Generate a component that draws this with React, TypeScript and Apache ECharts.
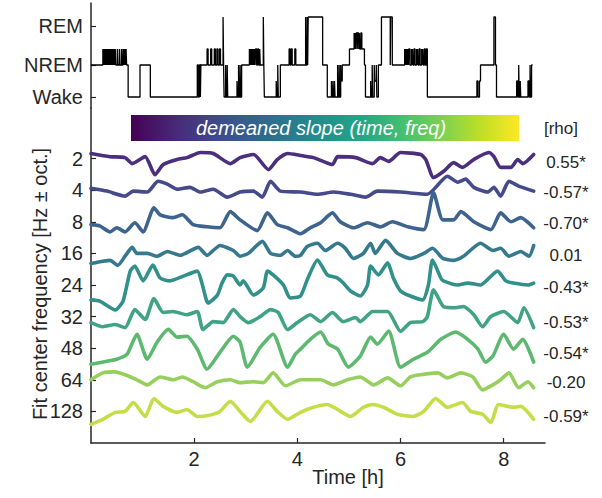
import React, { useEffect, useRef } from 'react';
import * as echarts from 'echarts';

// ---------- data ----------
const xTicks = [2, 4, 6, 8];
const stageLabels = ['Wake', 'NREM', 'REM'];
const stageTickValues = [0, 2, 4.44];

// hypnogram: [time h, stage level] (step, value holds until next point)
const hypnogram: [number, number][] = [
  [0, 2],
  [0.23, 3], [0.24, 2], [0.25, 3], [0.26, 2], [0.27, 3], [0.28, 2], [0.29, 3], [0.30, 2], [0.31, 3], [0.32, 2], [0.33, 3], [0.34, 2], [0.35, 3], [0.36, 2], [0.37, 3], [0.38, 2], [0.39, 3], [0.40, 2], [0.41, 3], [0.42, 2], [0.43, 3], [0.44, 2], [0.45, 3], [0.46, 2], [0.47, 3], [0.48, 2],
  [0.51, 3], [0.52, 2], [0.55, 3], [0.56, 2], [0.59, 3], [0.60, 2], [0.62, 3], [0.63, 2], [0.64, 3], [0.65, 2], [0.66, 3], [0.67, 2], [0.68, 3], [0.69, 2],
  [0.72, 0], [0.95, 2], [1.15, 0],
  [2.06, 2], [2.08, 0], [2.10, 2], [2.12, 0], [2.13, 2],
  [2.25, 3], [2.27, 2], [2.32, 3], [2.34, 2], [2.39, 3], [2.41, 2], [2.44, 3], [2.46, 2], [2.49, 3], [2.51, 2],
  [2.56, 5], [2.57, 2], [2.58, 0], [2.61, 2], [2.62, 0], [2.64, 2], [2.65, 0],
  [2.83, 1], [2.84, 0], [2.86, 2], [2.87, 0], [2.89, 2], [2.90, 0], [2.92, 2],
  [3.07, 3], [3.08, 2], [3.09, 3], [3.10, 2], [3.11, 3], [3.12, 2], [3.13, 3], [3.14, 2], [3.15, 3], [3.16, 2], [3.17, 3], [3.18, 2], [3.19, 3], [3.21, 2], [3.23, 3], [3.25, 2], [3.27, 3], [3.28, 2],
  [3.34, 5], [3.35, 2], [3.36, 0],
  [3.59, 1], [3.60, 0], [3.62, 2], [3.63, 0], [3.67, 2],
  [3.84, 3], [3.86, 2], [3.88, 3], [3.90, 2], [3.95, 3], [3.97, 2],
  [4.16, 5], [4.17, 2], [4.19, 5], [4.20, 2], [4.21, 5],
  [4.49, 2], [4.58, 0],
  [4.66, 1], [4.67, 0], [4.69, 1], [4.70, 0], [4.72, 1], [4.73, 0],
  [4.78, 2], [4.79, 0], [4.81, 2], [4.82, 0], [4.84, 2], [4.85, 1], [4.87, 2],
  [5.01, 3], [5.10, 4], [5.11, 3], [5.12, 4], [5.13, 3], [5.14, 4], [5.16, 3], [5.17, 4], [5.19, 3], [5.20, 4], [5.21, 3], [5.23, 4], [5.25, 3],
  [5.30, 2], [5.32, 0],
  [5.42, 1], [5.43, 0], [5.45, 2], [5.46, 0], [5.49, 2], [5.50, 1], [5.53, 2], [5.54, 0], [5.57, 2],
  [5.63, 5], [5.80, 2], [5.81, 5], [5.84, 2],
  [6.08, 3], [6.09, 2], [6.10, 3], [6.11, 2], [6.12, 3], [6.13, 2], [6.14, 3], [6.15, 2], [6.16, 3], [6.18, 2], [6.21, 3], [6.22, 2], [6.23, 3], [6.24, 2], [6.26, 3], [6.28, 2], [6.31, 3], [6.32, 2], [6.33, 3], [6.34, 2], [6.36, 3], [6.38, 2], [6.41, 3], [6.42, 2], [6.43, 3], [6.44, 2], [6.46, 3], [6.48, 2], [6.50, 3],
  [6.52, 0],
  [7.48, 1], [7.50, 0], [7.53, 1],
  [7.55, 2], [7.81, 5], [7.84, 2], [7.86, 0],
  [8.25, 1], [8.27, 0], [8.29, 2], [8.30, 0], [8.32, 1], [8.33, 0],
  [8.47, 1], [8.49, 0], [8.51, 2], [8.52, 0], [8.54, 2], [8.56, 2],
];

const freqLabels = ['2', '4', '8', '16', '24', '32', '48', '64', '128'];
const rhoLabels = ['0.55*', '-0.57*', '-0.70*', '0.01', '-0.43*', '-0.53*', '-0.54*', '-0.20', '-0.59*'];
const traceColors = ['#4b2e7d', '#454a8a', '#3d648f', '#35798e', '#31908a', '#40a384', '#5eb970', '#96cf5c', '#c4de48'];

// demeaned slope traces: [time h, deviation]
const trace2: [number, number][] = [
  [0, 0.16], [0.37, 0.06], [0.66, 0.03], [0.80, -0.16], [1.05, 0.06], [1.24, -0.51], [1.40, -0.19], [1.67, -0.03], [1.86, 0.03], [2.12, 0.19], [2.37, 0.16], [2.70, -0.16], [2.89, 0.03], [3.15, 0.13], [3.44, -0.35], [3.61, -0.03], [3.81, 0.16], [4.06, 0.10], [4.31, 0.03], [4.50, -0.09], [4.68, -0.19], [4.78, 0.06], [5.13, 0.03], [5.46, -0.16], [5.61, 0.03], [5.77, -0.09], [6.00, 0.19], [6.39, 0.13], [6.49, -0.03], [6.64, -0.60], [6.83, -0.41], [7.03, -0.13], [7.20, -0.28], [7.42, -0.03], [7.71, 0.19], [7.81, 0.06], [7.94, -0.28], [8.14, -0.28], [8.27, -0.03], [8.37, -0.16], [8.58, 0.13],
];
const trace4: [number, number][] = [
  [0, 0.06], [0.31, -0.03], [0.66, -0.19], [0.82, -0.03], [1.09, -0.06], [1.30, 0.28], [1.48, 0.19], [1.67, 0.03], [1.92, 0.09], [2.12, -0.06], [2.37, 0.03], [2.64, -0.22], [2.89, -0.06], [3.15, -0.03], [3.32, -0.22], [3.48, 0.28], [3.67, -0.03], [4.06, -0.06], [4.39, -0.13], [4.70, -0.06], [5.03, -0.13], [5.32, -0.22], [5.55, -0.03], [6.00, -0.06], [6.52, -0.13], [6.91, 0.44], [7.11, 0.25], [7.26, 0.35], [7.42, 0.09], [7.69, -0.06], [7.81, 0.09], [7.94, -0.19], [8.10, 0.28], [8.29, 0.13], [8.58, -0.03],
];
const trace8: [number, number][] = [
  [0, -0.09], [0.17, -0.13], [0.37, -0.32], [0.50, -0.19], [0.66, -0.32], [0.85, -0.03], [1.01, -0.32], [1.22, 0.44], [1.34, 0.22], [1.59, 0.13], [1.77, 0.22], [1.98, -0.09], [2.25, -0.16], [2.50, -0.19], [2.70, 0.32], [2.89, 0.06], [3.22, -0.28], [3.42, 0.28], [3.61, -0.09], [3.81, -0.19], [4.06, -0.38], [4.25, -0.19], [4.45, -0.03], [4.68, 0.28], [4.83, 0], [5.09, -0.19], [5.36, -0.03], [5.61, -0.16], [5.84, 0], [6.14, -0.16], [6.45, -0.25], [6.64, 0.92], [6.82, 0.06], [7.03, 0.06], [7.17, 0.32], [7.42, 0], [7.75, -0.25], [7.94, 0.28], [8.14, 0], [8.33, 0.13], [8.58, -0.19],
];
const trace16: [number, number][] = [
  [0, -0.32], [0.23, -0.25], [0.37, -0.22], [0.52, -0.38], [0.66, -0.09], [0.80, 0.19], [0.89, 0], [1.09, 0], [1.28, -0.09], [1.48, 0.06], [1.73, -0.06], [2.08, 0.19], [2.25, -0.06], [2.50, 0.25], [2.76, 0.09], [2.89, -0.09], [3.05, 0], [3.32, 0.38], [3.48, 0], [3.67, -0.06], [3.81, 0.09], [3.96, -0.09], [4.06, -0.06], [4.19, 0.22], [4.39, 0.32], [4.54, 0.09], [4.78, 0.32], [4.93, 0.16], [5.09, -0.16], [5.28, 0], [5.42, 0.32], [5.51, 0], [5.71, 0.41], [5.94, 0], [6.19, -0.16], [6.45, 0], [6.62, 0.16], [6.82, -0.16], [7.03, -0.22], [7.22, -0.09], [7.55, 0.32], [7.79, 0.09], [7.94, 0.16], [8.10, -0.09], [8.33, 0.06], [8.49, -0.09], [8.58, 0.25],
];
const trace24: [number, number][] = [
  [0, -0.47], [0.17, -0.51], [0.47, -0.79], [0.62, -0.51], [0.76, 0.44], [0.85, 0.60], [1.01, 0.13], [1.20, 0.63], [1.34, 0.22], [1.53, 0.13], [1.79, 0.28], [2.06, 0.44], [2.16, 0], [2.27, -0.57], [2.45, -0.32], [2.54, 0.06], [2.64, 0.32], [2.76, 0.28], [2.89, 0], [2.95, 0.13], [3.15, -0.32], [3.34, -0.09], [3.42, 0.44], [3.53, 0.32], [3.73, 0], [3.86, -0.41], [4.06, -0.35], [4.19, 0.16], [4.39, 0.79], [4.58, 0.32], [4.78, 0.22], [4.89, 0.06], [5.03, -0.19], [5.22, -0.35], [5.36, 0], [5.42, 0.60], [5.57, 0.32], [5.75, 0.70], [5.86, 0.22], [6.00, -0.19], [6.19, -0.35], [6.43, -0.47], [6.54, 0], [6.62, 0.79], [6.78, 0.22], [6.83, 0.13], [7.11, 0], [7.30, 0.06], [7.55, 0], [7.88, 0.44], [8.04, 0.13], [8.19, 0.06], [8.47, 0], [8.58, 0.06],
];
const trace32: [number, number][] = [
  [0, -0.19], [0.23, -0.32], [0.47, -0.25], [0.66, -0.35], [0.85, 0.22], [1.05, -0.09], [1.22, 0.57], [1.40, 0.13], [1.59, 0.16], [1.86, 0.06], [2.06, 0.16], [2.17, -0.41], [2.37, -0.16], [2.56, -0.19], [2.76, 0.22], [2.89, 0], [3.05, -0.19], [3.28, 0], [3.48, 0.22], [3.63, 0.13], [3.81, -0.41], [4.00, -0.19], [4.25, 0.06], [4.45, -0.16], [4.68, 0.13], [4.89, -0.16], [5.13, -0.03], [5.22, -0.16], [5.46, 0.16], [5.75, 0.16], [6.00, -0.47], [6.19, -0.19], [6.43, -0.16], [6.52, 0], [6.64, 0.85], [6.83, 0.32], [7.07, 0.28], [7.22, 0.32], [7.42, 0.06], [7.59, -0.32], [7.75, 0], [8.00, 0.16], [8.27, -0.19], [8.39, 0.28], [8.58, -0.35],
];
const trace48: [number, number][] = [
  [0, -0.51], [0.31, -0.41], [0.50, -0.35], [0.70, -0.19], [0.89, 0.44], [1.09, -0.35], [1.28, 0.19], [1.50, 0.60], [1.67, 0.35], [1.86, 0.38], [2.06, -0.03], [2.25, -0.66], [2.50, -0.13], [2.76, 0.38], [2.89, 0.19], [3.03, -0.60], [3.28, 0.03], [3.53, 0.44], [3.81, -0.60], [3.96, -0.19], [4.06, -0.03], [4.25, 0.28], [4.45, 0.51], [4.60, 0.13], [4.78, -0.03], [4.99, -0.60], [5.22, -0.25], [5.42, 0.35], [5.55, 0.13], [5.77, 0.54], [6.00, -0.60], [6.25, -0.35], [6.52, -0.13], [6.78, 0.28], [7.07, 0.51], [7.30, 0.28], [7.50, -0.03], [7.65, -0.44], [7.79, -0.25], [8.00, 0.44], [8.19, -0.03], [8.37, 0.28], [8.58, -0.44],
];
const trace64: [number, number][] = [
  [0, 0], [0.23, 0.22], [0.47, 0.25], [0.66, 0.16], [0.89, 0], [1.09, -0.16], [1.34, 0.09], [1.59, 0], [1.77, 0.09], [1.98, -0.06], [2.21, -0.25], [2.45, -0.06], [2.70, 0], [2.89, -0.09], [3.15, -0.06], [3.34, -0.09], [3.53, 0.22], [3.77, -0.19], [4.06, 0], [4.45, 0], [4.70, -0.16], [4.97, 0], [5.22, 0.09], [5.48, -0.16], [5.75, 0.06], [6.00, -0.19], [6.19, 0.09], [6.39, 0.16], [6.72, 0.22], [6.91, 0.06], [7.17, 0.22], [7.40, 0.09], [7.59, -0.32], [7.79, -0.16], [7.94, 0], [8.10, 0.22], [8.29, -0.25], [8.47, -0.06], [8.58, -0.25],
];
const trace128: [number, number][] = [
  [0, -0.41], [0.23, -0.25], [0.47, -0.03], [0.66, 0], [0.82, 0.28], [1.05, -0.16], [1.22, 0.41], [1.40, 0.16], [1.67, -0.03], [1.86, 0.06], [2.06, -0.16], [2.27, -0.13], [2.50, 0], [2.70, 0.32], [2.89, 0], [3.09, -0.32], [3.42, 0.32], [3.61, 0], [3.81, -0.25], [4.06, -0.03], [4.31, 0.13], [4.58, 0.22], [4.78, 0.06], [5.03, -0.16], [5.28, 0.13], [5.46, 0.22], [5.67, 0.13], [5.94, -0.09], [6.25, -0.16], [6.45, 0], [6.68, 0.41], [6.91, 0.13], [7.20, 0.28], [7.36, 0], [7.59, -0.09], [7.75, -0.35], [7.90, 0.22], [8.19, 0.13], [8.33, 0.16], [8.58, -0.25],
];

const traces = [trace2, trace4, trace8, trace16, trace24, trace32, trace48, trace64, trace128];

// ---------- layout ----------
const FONT = "'Liberation Sans', Arial, Helvetica, sans-serif";
const INK = '#262626';
const rhoY = [162, 192, 223, 255, 287, 322, 353, 382, 416];

export default function App() {
  const ref = useRef<HTMLDivElement>(null);
  useEffect(() => {
    if (!ref.current) return;
    const chart = echarts.init(ref.current, undefined, { renderer: 'svg' });
    const n = traces.length;
    const traceSeries = traces.map((tr, i) => ({
      type: 'line',
      xAxisIndex: 1,
      yAxisIndex: 1,
      showSymbol: false,
      smooth: 0.2,
      lineStyle: { color: traceColors[i], width: 3.6, join: 'round', cap: 'round' },
      itemStyle: { color: traceColors[i] },
      data: tr.map(([t, d]) => [t, d + (n - i)]),
      z: 3,
    }));
    const freqTickValues = freqLabels.map((_, i) => n - i);

    const graphic: any[] = [
      {
        type: 'rect',
        shape: { x: 131, y: 115, width: 388, height: 26 },
        style: {
          fill: new echarts.graphic.LinearGradient(0, 0, 1, 0, [
            { offset: 0, color: '#440154' },
            { offset: 0.1, color: '#482475' },
            { offset: 0.2, color: '#414487' },
            { offset: 0.3, color: '#355f8d' },
            { offset: 0.4, color: '#2a788e' },
            { offset: 0.5, color: '#21918c' },
            { offset: 0.6, color: '#22a884' },
            { offset: 0.7, color: '#44bf70' },
            { offset: 0.8, color: '#7ad151' },
            { offset: 0.9, color: '#bddf26' },
            { offset: 1, color: '#fde725' },
          ]),
        },
      },
      {
        type: 'text',
        x: 321,
        y: 128,
        style: {
          text: 'demeaned slope (time, freq)',
          fill: '#ffffff',
          font: `italic 20px ${FONT}`,
          align: 'center',
          verticalAlign: 'middle',
        },
      },
      {
        type: 'text',
        x: 561,
        y: 128,
        style: { text: '[rho]', fill: INK, font: `17px ${FONT}`, align: 'center', verticalAlign: 'middle' },
      },
      {
        type: 'text',
        x: 40,
        y: 284,
        rotation: Math.PI / 2,
        style: {
          text: 'Fit center frequency [Hz ± oct.]',
          fill: INK,
          font: `20px ${FONT}`,
          align: 'center',
          verticalAlign: 'middle',
        },
      },
      {
        type: 'text',
        x: 348,
        y: 477,
        style: { text: 'Time [h]', fill: INK, font: `20px ${FONT}`, align: 'center', verticalAlign: 'middle' },
      },
      ...rhoLabels.map((r, i) => ({
        type: 'text',
        x: 566,
        y: rhoY[i],
        style: { text: r, fill: INK, font: `17px ${FONT}`, align: 'center', verticalAlign: 'middle' },
      })),
    ];

    chart.setOption({
      animation: false,
      backgroundColor: '#ffffff',
      grid: [
        { left: 91, right: 57, top: 3, height: 105 },
        { left: 91, right: 57, top: 108, height: 335 },
      ],
      xAxis: [
        { type: 'value', gridIndex: 0, min: 0, max: 8.8, show: false },
        {
          type: 'value',
          gridIndex: 1,
          min: 0,
          max: 8.8,
          axisLine: { show: true, lineStyle: { color: INK, width: 1.5 } },
          axisTick: { show: true, inside: true, length: 5, customValues: xTicks, lineStyle: { color: INK, width: 1.2 } },
          axisLabel: {
            customValues: xTicks,
            color: INK,
            fontSize: 20,
            fontFamily: FONT,
            margin: 6,
            formatter: (v: number) => String(v),
          },
          splitLine: { show: false },
        },
      ],
      yAxis: [
        {
          type: 'value',
          gridIndex: 0,
          min: -0.6875,
          max: 5.875,
          axisLine: { show: true, lineStyle: { color: INK, width: 1.5 } },
          axisTick: { show: true, inside: true, length: 5, customValues: stageTickValues, lineStyle: { color: INK, width: 1.2 } },
          axisLabel: {
            customValues: stageTickValues,
            color: INK,
            fontSize: 20,
            fontFamily: FONT,
            margin: 8,
            formatter: (v: number) => {
              const idx = stageTickValues.findIndex((s) => Math.abs(s - v) < 0.01);
              return idx >= 0 ? stageLabels[idx] : '';
            },
          },
          splitLine: { show: false },
        },
        {
          type: 'value',
          gridIndex: 1,
          min: 0,
          max: 10.6,
          axisLine: { show: true, lineStyle: { color: INK, width: 1.5 } },
          axisTick: { show: true, inside: true, length: 5, customValues: freqTickValues, lineStyle: { color: INK, width: 1.2 } },
          axisLabel: {
            customValues: freqTickValues,
            color: INK,
            fontSize: 20,
            fontFamily: FONT,
            margin: 8,
            formatter: (v: number) => {
              const idx = n - Math.round(v);
              return idx >= 0 && idx < n ? freqLabels[idx] : '';
            },
          },
          splitLine: { show: false },
        },
      ],
      series: [
        {
          type: 'line',
          xAxisIndex: 0,
          yAxisIndex: 0,
          step: 'end',
          showSymbol: false,
          lineStyle: { color: '#000000', width: 1.3 },
          data: hypnogram,
        },
        ...traceSeries,
      ],
      graphic,
    });
    return () => chart.dispose();
  }, []);
  return (
    <div
      ref={ref}
      style={{ position: 'absolute', left: 0, top: 0, width: 602, height: 498, background: '#fff' }}
    />
  );
}
